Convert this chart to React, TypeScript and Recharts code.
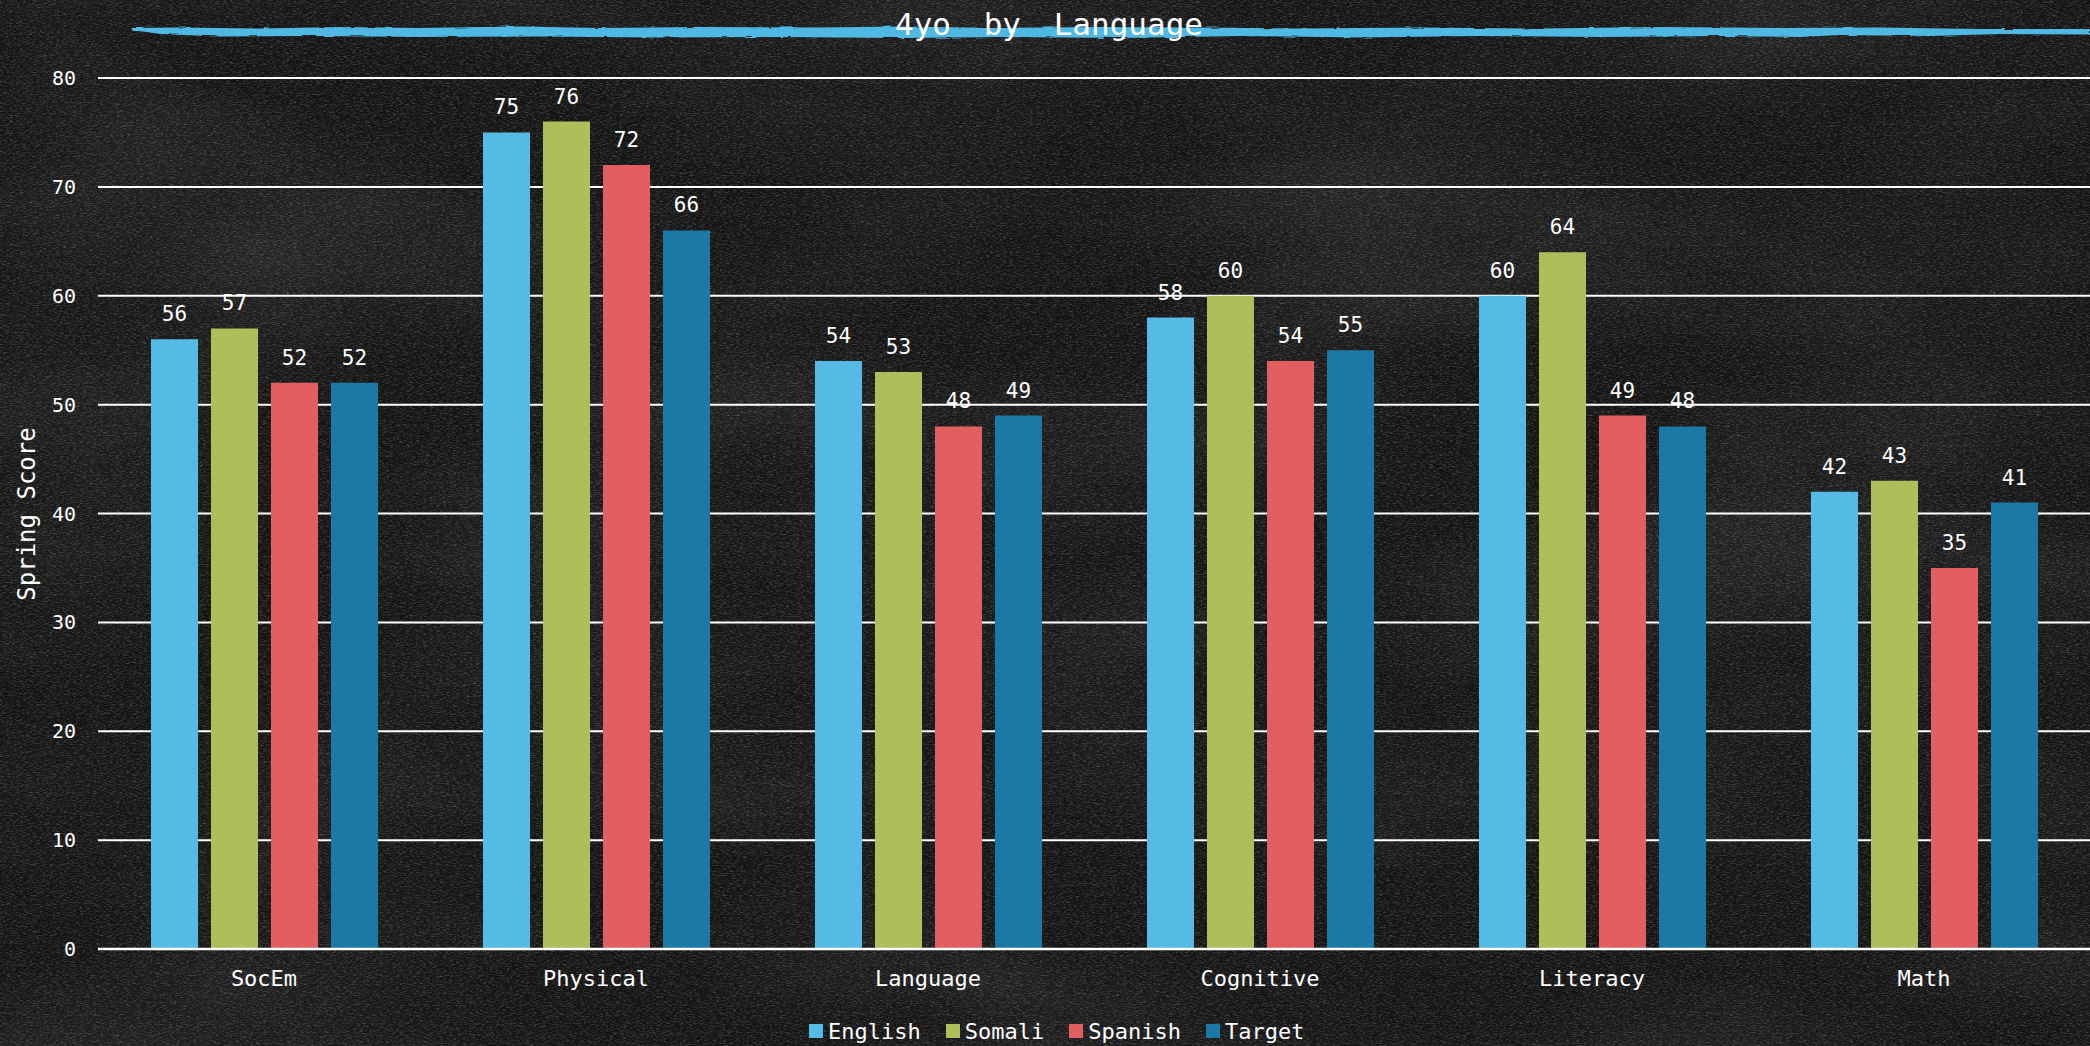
import { BarChart, Bar, XAxis, YAxis, CartesianGrid, LabelList } from "recharts";

const categories = ["SocEm", "Physical", "Language", "Cognitive", "Literacy", "Math"];
const english = [56, 75, 54, 58, 60, 42];
const somali = [57, 76, 53, 60, 64, 43];
const spanish = [52, 72, 48, 54, 49, 35];
const target = [52, 66, 49, 55, 48, 41];
const yTicks = [0, 10, 20, 30, 40, 50, 60, 70, 80];

const seriesNames = ["English", "Somali", "Spanish", "Target"];
const seriesColors = ["#55BBE5", "#AFBE5A", "#E25E60", "#1A7AA5"];
const seriesValues = [english, somali, spanish, target];

const data = categories.map((name, i) => {
  const row: Record<string, string | number> = { name };
  seriesNames.forEach((s, j) => {
    row[s] = seriesValues[j][i];
  });
  return row;
});

const W = 2090;
const H = 1046;
const FONT = "'DejaVu Sans Mono', 'Liberation Mono', monospace";

// rough painted stroke behind the title
const brushTop = [
  [132, 28], [180, 27.5], [260, 28.5], [340, 27], [420, 28], [520, 26.5], [600, 28],
  [700, 27], [820, 27.5], [900, 26.5], [1000, 28], [1100, 27], [1200, 27.5], [1300, 28.5],
  [1420, 27.5], [1540, 28.5], [1660, 27], [1790, 28], [1880, 27.5], [1980, 29], [2090, 29],
];
const brushBottom = [
  [2090, 34.5], [2000, 34], [1930, 36], [1840, 35], [1800, 37], [1720, 36], [1600, 37],
  [1480, 36], [1360, 37.5], [1240, 36], [1120, 38], [1000, 37], [900, 38], [780, 37],
  [660, 37.5], [540, 36.5], [420, 37], [320, 36], [220, 36.5], [160, 34], [132, 30],
];
const brushPath =
  "M" + brushTop.concat(brushBottom).map((p) => p.join(",")).join(" L") + " Z";

function Backdrop() {
  return (
    <svg width={W} height={H} style={{ position: "absolute", left: 0, top: 0 }}>
      <defs>
        <filter id="grain" x="0" y="0" width="100%" height="100%">
          <feTurbulence type="fractalNoise" baseFrequency="0.3 1.1" numOctaves={3} seed={7} />
          <feColorMatrix
            type="matrix"
            values="0 0 0 0 1  0 0 0 0 1  0 0 0 0 1  1.8 0 0 0 -0.8"
          />
        </filter>
        <filter id="cloud" x="0" y="0" width="100%" height="100%">
          <feTurbulence type="fractalNoise" baseFrequency="0.0025 0.006" numOctaves={3} seed={3} />
          <feColorMatrix
            type="matrix"
            values="0 0 0 0 1  0 0 0 0 1  0 0 0 0 1  1.4 0 0 0 -0.55"
          />
        </filter>
        <filter id="rough">
          <feTurbulence type="fractalNoise" baseFrequency="0.05 0.6" numOctaves={2} seed={11} />
          <feDisplacementMap in="SourceGraphic" scale={3} />
        </filter>
      </defs>
      <rect width={W} height={H} fill="#141414" />
      <rect width={W} height={H} filter="url(#cloud)" opacity={0.1} />
      <rect width={W} height={H} filter="url(#grain)" opacity={0.28} />
      <path d={brushPath} fill="#4FB9E3" filter="url(#rough)" />
      <text
        x={1049}
        y={35}
        textAnchor="middle"
        fill="#ffffff"
        fontFamily={FONT}
        fontSize={31}
        style={{ wordSpacing: 14 }}
      >
        4yo by Language
      </text>
      <text
        transform="translate(35, 514) rotate(-90)"
        textAnchor="middle"
        fill="#ffffff"
        fontFamily={FONT}
        fontSize={24}
      >
        Spring Score
      </text>
    </svg>
  );
}

function LegendRow() {
  return (
    <div
      style={{
        position: "absolute",
        left: 809,
        top: 1016,
        height: 30,
        display: "flex",
        alignItems: "center",
        fontFamily: FONT,
        fontSize: 22,
        color: "#ffffff",
      }}
    >
      {seriesNames.map((s, i) => (
        <div key={s} style={{ display: "flex", alignItems: "center", marginRight: 25 }}>
          <span
            style={{ width: 14, height: 14, background: seriesColors[i], marginRight: 5 }}
          />
          <span>{s}</span>
        </div>
      ))}
    </div>
  );
}

export default function App() {
  return (
    <div
      style={{
        position: "fixed",
        left: 0,
        top: 0,
        width: W,
        height: H,
        overflow: "hidden",
      }}
    >
      <Backdrop />
      <div style={{ position: "absolute", left: 0, top: 0 }}>
        <BarChart
          width={W}
          height={H}
          data={data}
          margin={{ top: 78, right: 0, bottom: 47, left: 0 }}
          barSize={47}
          barGap={13}
        >
          <CartesianGrid vertical={false} stroke="#ffffff" strokeWidth={2} />
          <XAxis
            dataKey="name"
            height={50}
            axisLine={{ stroke: "#ffffff", strokeWidth: 2.5 }}
            tickLine={false}
            tickMargin={15}
            tick={{ fill: "#ffffff", fontSize: 22, fontFamily: FONT }}
          />
          <YAxis
            width={98}
            domain={[0, 80]}
            ticks={yTicks}
            axisLine={false}
            tickLine={false}
            tickMargin={16}
            tick={{ fill: "#ffffff", fontSize: 20, fontFamily: FONT }}
          />
          {seriesNames.map((s, i) => (
            <Bar key={s} dataKey={s} fill={seriesColors[i]} isAnimationActive={false}>
              <LabelList
                dataKey={s}
                position="top"
                offset={18}
                fill="#ffffff"
                fontSize={21}
                fontFamily={FONT}
              />
            </Bar>
          ))}
        </BarChart>
      </div>
      <LegendRow />
    </div>
  );
}
